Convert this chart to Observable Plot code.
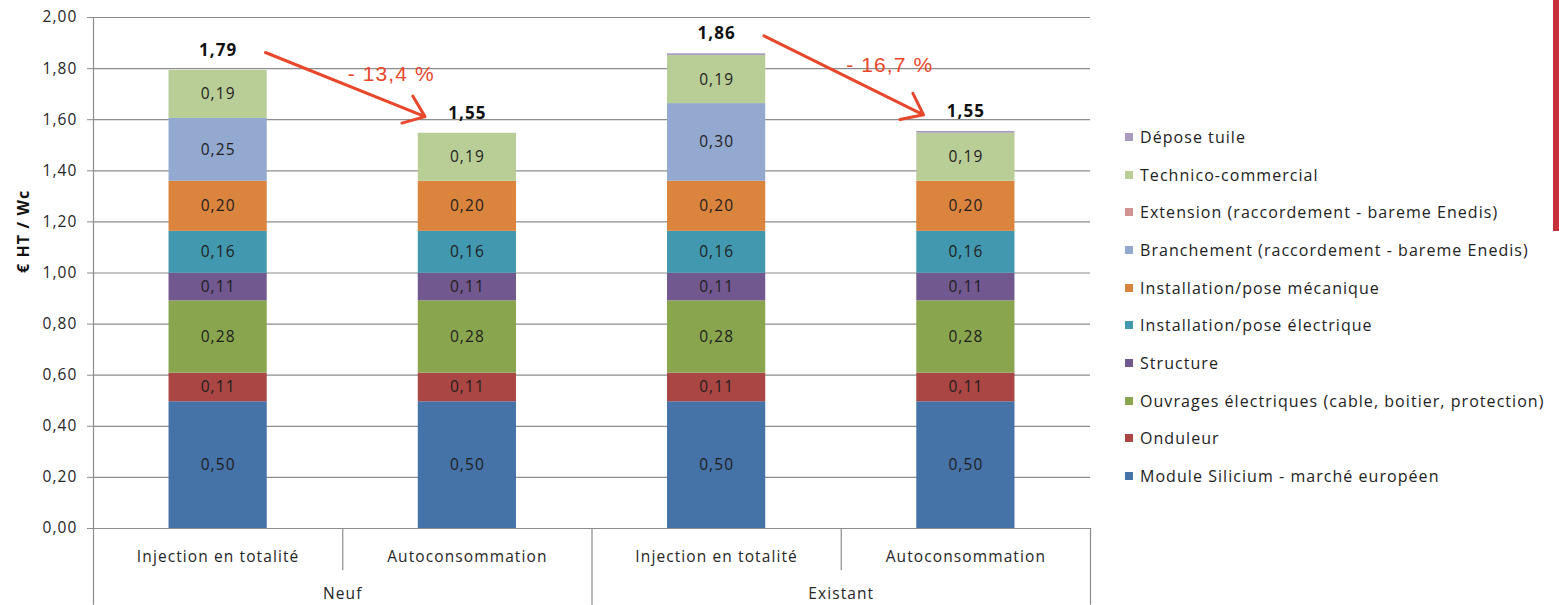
<!DOCTYPE html>
<html lang="fr">
<head>
<meta charset="utf-8">
<script src="https://cdn.jsdelivr.net/npm/d3@7"></script>
<script src="https://cdn.jsdelivr.net/npm/@observablehq/plot@0.6"></script>
<style>
  html, body { margin: 0; padding: 0; background: #fff; }
  #wrap { position: relative; width: 1559px; height: 605px; overflow: hidden; }
  #wrap svg { position: absolute; left: 0; top: 0; }
  #wrap svg text { letter-spacing: 1.1px; }
  #wrap svg g[aria-label="change"] text { letter-spacing: 0px; }
  #legend { position: absolute; left: 1125px; top: 118px; font-family: "Open Sans", sans-serif;
            font-size: 16px; color: #222; letter-spacing: 1.05px; }
  #legend .row { height: 37.7px; display: flex; align-items: center; white-space: nowrap; }
  #legend .sw { width: 8px; height: 8px; margin-right: 7px; flex: none; }
  #edge { position: absolute; left: 1553px; top: 0; width: 6px; height: 231px; background: #C8303A; }
</style>
</head>
<body>
<div id="wrap"><div id="legend"></div><div id="edge"></div></div>
<script>
// Cost components, bottom of the stack first
const components = [
  "Module Silicium - marché européen",
  "Onduleur",
  "Ouvrages électriques (cable, boitier, protection)",
  "Structure",
  "Installation/pose électrique",
  "Installation/pose mécanique",
  "Branchement (raccordement - bareme Enedis)",
  "Extension (raccordement - bareme Enedis)",
  "Technico-commercial",
  "Dépose tuile"
];
const componentColors = [
  "#4572A7", "#AA4643", "#89A54E", "#71588F", "#4198AF",
  "#DB843D", "#93A9CF", "#D19392", "#B9CD96", "#A99BBD"
];

// Bars, left to right
const scenarios = ["Injection en totalité", "Autoconsommation", "Injection en totalité", "Autoconsommation"];
const groups = ["Neuf", "Existant"];

// € HT / Wc per component, same order as `components`
const neufInjection      = [0.496, 0.112, 0.283, 0.108, 0.164, 0.196, 0.246, 0, 0.188, 0];
const neufAuto           = [0.496, 0.112, 0.283, 0.108, 0.164, 0.196, 0,     0, 0.188, 0];
const existantInjection  = [0.496, 0.112, 0.283, 0.108, 0.164, 0.196, 0.304, 0, 0.188, 0.007];
const existantAuto       = [0.496, 0.112, 0.283, 0.108, 0.164, 0.196, 0,     0, 0.188, 0.007];
const barValues = [neufInjection, neufAuto, existantInjection, existantAuto];

// Arrows: from an injection bar to the matching self-consumption bar
const changes = [{from: 0, to: 1}, {from: 2, to: 3}];

const fr2 = v => v.toFixed(2).replace(".", ",");

// Stack each bar's components
const segments = [];
const totals = barValues.map((vals, i) => {
  let acc = 0;
  vals.forEach((v, k) => {
    if (v > 0) segments.push({i, component: components[k], value: v, y1: acc, y2: acc + v});
    acc += v;
  });
  return {i, total: acc, label: fr2(acc)};
});

const rounded = totals.map(t => +t.total.toFixed(2));
const arrowData = changes.map(c => {
  const pct = (rounded[c.to] / rounded[c.from] - 1) * 100;
  return {
    x1: c.from + 0.19, y1: totals[c.from].total + 0.07,
    x2: c.to - 0.17,   y2: totals[c.to].total + 0.065,
    label: "- " + Math.abs(pct).toFixed(1).replace(".", ",") + " %"
  };
});

const hw = 0.197;           // half bar width in x units
const gridColor = "#8C8C8C";
const ink = "#262626";
const red = "#E8472B";

const chart = Plot.plot({
  width: 1559,
  height: 605,
  marginLeft: 93,
  marginRight: 469,
  marginTop: 17,
  marginBottom: 77,
  style: {fontFamily: "'Open Sans', sans-serif", fontSize: "15.5px", color: ink, background: "transparent"},
  x: {type: "linear", domain: [-0.5, 3.5], axis: null},
  y: {domain: [0, 2], axis: null},
  color: {domain: components, range: componentColors},
  marks: [
    // horizontal gridlines (the 0 line doubles as the category axis)
    Plot.ruleY(d3.range(0, 2.001, 0.2), {stroke: gridColor, strokeWidth: 1.2}),
    // value axis
    Plot.ruleX([-0.5], {y1: 2, y2: -0.30, stroke: gridColor, strokeWidth: 1.2}),
    Plot.axisY({ticks: d3.range(0, 2.001, 0.2), tickFormat: fr2, tickSize: 6, tickPadding: 10,
                stroke: gridColor, fontSize: 15.5, fill: ink}),
    Plot.text(["€ HT / Wc"], {frameAnchor: "left", dx: -70, rotate: -90, fontWeight: "bold",
                             fontSize: 16, fill: "#111"}),
    // category separators below the axis
    Plot.ruleX([0.5, 2.5], {y1: 0, y2: -0.165, stroke: gridColor, strokeWidth: 1.2}),
    Plot.ruleX([1.5, 3.5], {y1: 0, y2: -0.30, stroke: gridColor, strokeWidth: 1.2}),
    Plot.text(scenarios, {x: (d, i) => i, y: -0.11, text: d => d, fill: ink}),
    Plot.text(groups, {x: (d, i) => 2 * i + 0.5, y: -0.258, text: d => d, fill: ink}),
    // stacked bars
    Plot.rectY(segments, {x1: d => d.i - hw, x2: d => d.i + hw, y1: "y1", y2: "y2", fill: "component"}),
    Plot.text(segments.filter(d => d.value >= 0.05), {
      x: "i", y: d => (d.y1 + d.y2) / 2, text: d => fr2(d.value), fill: "#1e1e1e", fontSize: 15.5
    }),
    // totals
    Plot.text(totals, {x: "i", y: "total", text: "label", dy: -20, fontWeight: "bold", fontSize: 17, fill: "#111"}),
    // change arrows
    Plot.arrow(arrowData, {x1: "x1", y1: "y1", x2: "x2", y2: "y2", stroke: red, strokeWidth: 3,
                           headLength: 12, headAngle: 75}),
    Plot.text(arrowData, {x: d => (d.x1 + d.x2) / 2, y: d => (d.y1 + d.y2) / 2, text: "label",
                          dx: 46, dy: -10, fill: red, fontSize: 21,
                          fontFamily: "'Liberation Sans', Arial, sans-serif", ariaLabel: "change"})
  ]
});

const wrap = document.getElementById("wrap");
wrap.insertBefore(chart, wrap.firstChild);

// Legend, top entry is the top of the stack
const legend = d3.select("#legend");
components.map((c, k) => ({c, color: componentColors[k]})).reverse().forEach(d => {
  const row = legend.append("div").attr("class", "row");
  row.append("span").attr("class", "sw").style("background", d.color);
  row.append("span").text(d.c);
});
</script>
</body>
</html>
